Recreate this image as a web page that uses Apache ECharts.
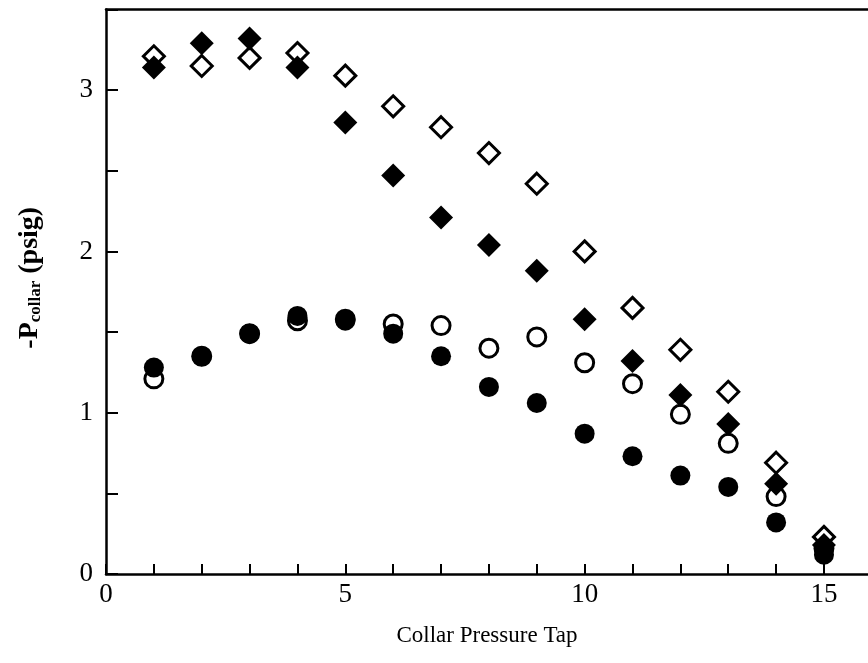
<!DOCTYPE html>
<html>
<head>
<meta charset="utf-8">
<script src="https://cdn.jsdelivr.net/npm/echarts@6/dist/echarts.min.js"></script>
<style>html,body{margin:0;padding:0;background:#fff;}#c{width:868px;height:663px;}</style>
</head>
<body>
<div id="c"></div>
<script>
const taps = [1,2,3,4,5,6,7,8,9,10,11,12,13,14,15];
const openDiamond   = [3.21,3.15,3.20,3.23,3.09,2.90,2.77,2.61,2.42,2.00,1.65,1.39,1.13,0.69,0.23];
const filledDiamond = [3.14,3.29,3.32,3.14,2.80,2.47,2.21,2.04,1.88,1.58,1.32,1.11,0.93,0.56,0.18];
const openCircle    = [1.21,1.35,1.49,1.57,1.58,1.55,1.54,1.40,1.47,1.31,1.18,0.99,0.81,0.48,0.16];
const filledCircle  = [1.28,1.35,1.49,1.60,1.57,1.49,1.35,1.16,1.06,0.87,0.73,0.61,0.54,0.32,0.12];
const xTickLabels = [0,5,10,15];
const yTickLabels = [0,1,2,3];

const pair = arr => taps.map((t,i)=>[t,arr[i]]);
const font = '"Liberation Serif","DejaVu Serif",serif';

const chart = echarts.init(document.getElementById('c'), null, {renderer:'canvas'});
chart.setOption({
  animation:false,
  backgroundColor:'#fff',
  grid:{left:106, top:9.5, right:0, bottom:89, show:false, containLabel:false},
  xAxis:[{
    type:'value', min:0, max:15.92, interval:1,
    axisLine:{show:true, onZero:false, lineStyle:{color:'#000', width:2.5}},
    axisTick:{show:true, inside:true, length:10, lineStyle:{color:'#000', width:2}},
    splitLine:{show:false},
    axisLabel:{color:'#000', fontFamily:font, fontSize:27, margin:7, showMaxLabel:false,
      formatter:v=> xTickLabels.includes(v) ? String(v) : ''},
    name:'Collar Pressure Tap', nameLocation:'middle', nameGap:50,
    nameTextStyle:{color:'#000', fontFamily:font, fontSize:23}
  },{
    type:'value', min:0, max:15.92, position:'top',
    axisLine:{show:true, onZero:false, lineStyle:{color:'#000', width:2.5}},
    axisTick:{show:false}, axisLabel:{show:false}, splitLine:{show:false}
  }],
  yAxis:{
    type:'value', min:0, max:3.5, interval:0.5,
    axisLine:{show:true, onZero:false, lineStyle:{color:'#000', width:2.5}},
    axisTick:{show:true, inside:true, length:12, lineStyle:{color:'#000', width:2}},
    splitLine:{show:false},
    axisLabel:{color:'#000', fontFamily:font, fontSize:27, margin:13,
      formatter:v=> yTickLabels.includes(v) ? String(v) : ''},
    name:'-P{sub|collar} (psig)', nameLocation:'middle', nameGap:62, nameRotate:90,
    nameTextStyle:{color:'#000', fontFamily:font, fontSize:28, fontWeight:'bold', padding:[0,0,0,28],
      rich:{sub:{fontFamily:font, fontSize:17, fontWeight:'bold', color:'#000', verticalAlign:'bottom', padding:[10,0,0,0]}}}
  },
  series:[
    {type:'scatter', name:'open circle', data:pair(openCircle), symbol:'circle', symbolSize:18,
      itemStyle:{color:'#fff', borderColor:'#000', borderWidth:3, opacity:1}, z:2},
    {type:'scatter', name:'open diamond', data:pair(openDiamond), symbol:'diamond', symbolSize:21,
      itemStyle:{color:'#fff', borderColor:'#000', borderWidth:3, opacity:1}, z:3},
    {type:'scatter', name:'filled diamond', data:pair(filledDiamond), symbol:'diamond', symbolSize:24,
      itemStyle:{color:'#000', borderWidth:0, opacity:1}, z:4},
    {type:'scatter', name:'filled circle', data:pair(filledCircle), symbol:'circle', symbolSize:20,
      itemStyle:{color:'#000', borderWidth:0, opacity:1}, z:5}
  ]
});
</script>
</body>
</html>
